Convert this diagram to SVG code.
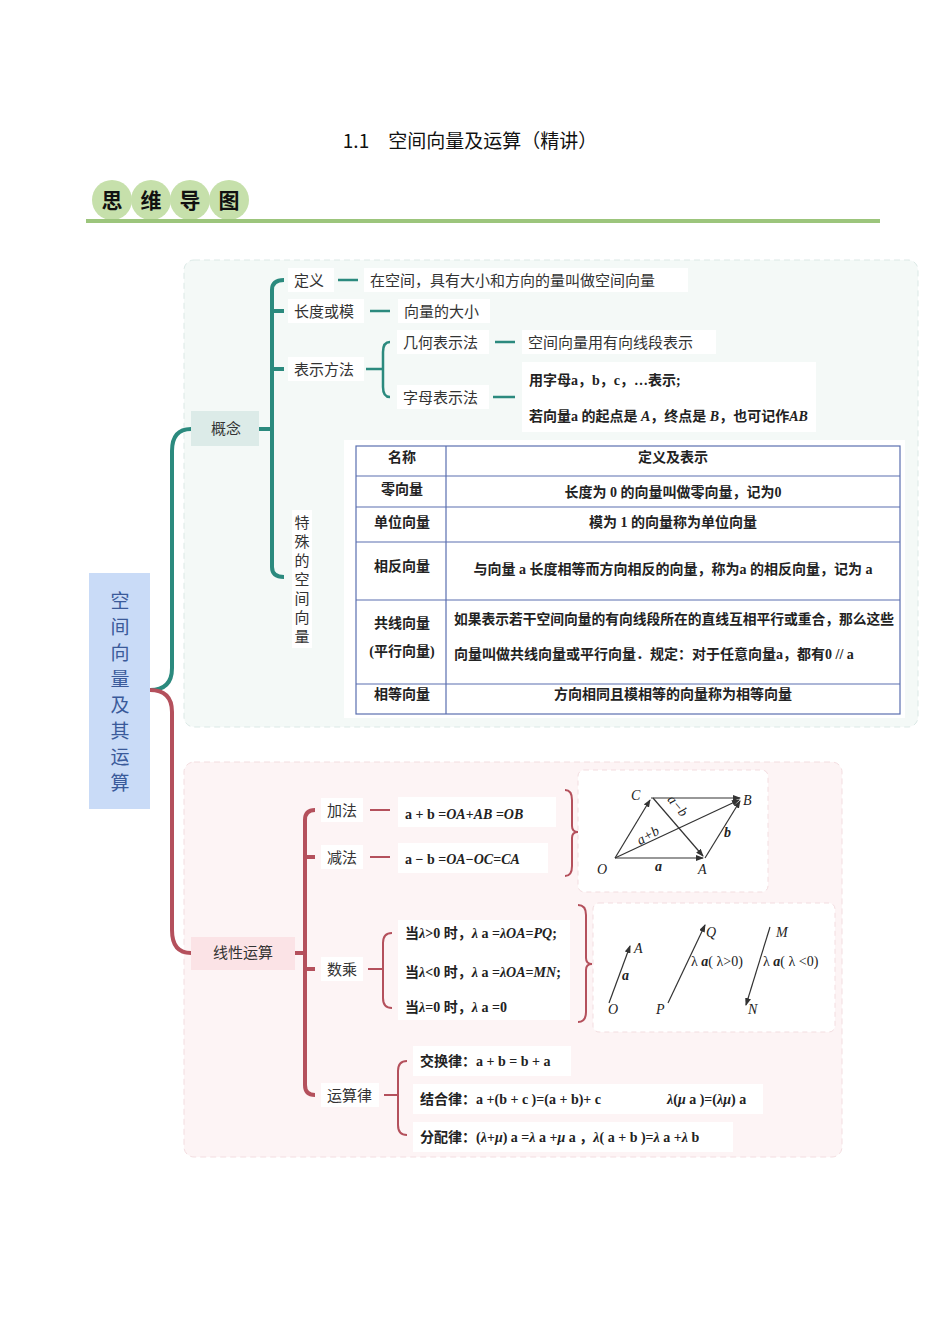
<svg xmlns="http://www.w3.org/2000/svg" width="950" height="1344" viewBox="0 0 950 1344">
<style>
.t{font-family:"Noto Sans CJK SC","Noto Sans",sans-serif;font-size:15px;fill:#333}
.s{font-family:"Liberation Serif","Noto Sans CJK SC",serif;font-size:14px;font-weight:bold;fill:#222}
.m{font-family:"Liberation Serif","Noto Sans CJK SC",serif;font-size:14px;font-style:italic;fill:#222}
.g{fill:none;stroke:#2b8a7e;stroke-width:4}
.r{fill:none;stroke:#b4505c;stroke-width:4}
.gl{fill:none;stroke:#2b8a7e;stroke-width:2.5}
.rl{fill:none;stroke:#b4505c;stroke-width:2}
.ln{stroke:#333;stroke-width:1.2;fill:none}
.bg{fill:#fff}
</style>
<defs>
<marker id="ah" markerWidth="8" markerHeight="6" refX="7" refY="3" orient="auto" markerUnits="userSpaceOnUse"><path d="M0,0 L8,3 L0,6 z" fill="#333"/></marker>
</defs>
<rect width="950" height="1344" fill="#fff"/>
<text x="470" y="148" text-anchor="middle" style="font-family:'Noto Sans CJK SC',sans-serif;font-size:19px;fill:#111">1.1　空间向量及运算（精讲）</text>
<g id="header">
<circle cx="112" cy="200" r="20" fill="#c6e0ab"/><circle cx="151" cy="200" r="20" fill="#c6e0ab"/><circle cx="190" cy="200" r="20" fill="#c6e0ab"/><circle cx="229" cy="200" r="20" fill="#c6e0ab"/>
<g style="font-family:'Noto Sans CJK SC',sans-serif;font-size:21px;font-weight:bold;fill:#111" text-anchor="middle">
<text x="112" y="208">思</text><text x="151" y="208">维</text><text x="190" y="208">导</text><text x="229" y="208">图</text></g>
<line x1="86" y1="221" x2="880" y2="221" stroke="#9cc57c" stroke-width="4"/>
</g>
<rect x="184" y="260" width="734" height="467" rx="10" fill="#f4f9f7" stroke="#dbe9e6" stroke-dasharray="6,4"/>
<rect x="184" y="762" width="658" height="395" rx="10" fill="#fdf4f5" stroke="#f3dde0" stroke-dasharray="6,4"/>
<g id="connectors">
<path class="g" d="M150,690 Q172,690 172,668 L172,451 Q172,429 191,429"/>
<path class="r" d="M150,690 Q172,690 172,712 L172,930 Q172,953 191,953"/>
<path class="g" d="M259,429 L272,429 M272,429 L272,290 Q272,280 284,280 M272,311 L284,311 M272,369 L284,369 M272,429 L272,567 Q272,577 284,577"/>
<path class="gl" d="M338,280 L358,280 M370,311 L390,311 M366,369 L383,369 M495,342 L515,342 M493,397 L515,397"/>
<path class="gl" d="M390,342 Q383,342 383,352 L383,387 Q383,397 390,397"/>
<path class="r" d="M295,953 L305,953 M305,953 L305,820 Q305,810 315,810 M305,857 L315,857 M305,969 L315,969 M305,953 L305,1085 Q305,1095 315,1095"/>
<path class="rl" d="M370,810 L390,810 M370,857 L390,857"/>
<path class="rl" d="M392,933 Q383,933 383,943 L383,998 Q383,1008 392,1008 M383,969 L368,969"/>
<path class="rl" d="M407,1061 Q398,1061 398,1071 L398,1125 Q398,1135 407,1135 M398,1095 L384,1095"/>
<path class="rl" d="M565,790 Q572,790 572,800 L572,826 Q572,832 578,832 Q572,832 572,838 L572,866 Q572,876 565,876"/>
<path class="rl" d="M578,905 Q586,905 586,915 L586,958 Q586,964 592,964 Q586,964 586,970 L586,1012 Q586,1022 578,1022"/>
</g>
<g id="main"><rect x="89" y="573" width="61" height="236" fill="#c9dbf7"/>
<g style="font-family:'Noto Sans CJK SC',sans-serif;font-size:19px;fill:#3a5a9a" text-anchor="middle">
<text x="120" y="608">空</text><text x="120" y="634">间</text><text x="120" y="660">向</text><text x="120" y="686">量</text><text x="120" y="712">及</text><text x="120" y="738">其</text><text x="120" y="764">运</text><text x="120" y="790">算</text></g></g>
<g id="gainian"><rect x="191" y="411" width="68" height="35" fill="#dcebe8"/><text class="t" x="226" y="434" text-anchor="middle">概念</text></g>
<g id="dingyi"><rect x="288" y="268" width="46" height="24" class="bg"/><text class="t" x="294" y="286">定义</text></g>
<g id="dingyi-c"><rect x="364" y="268" width="324" height="24" class="bg"/><text class="t" x="370" y="286">在空间，具有大小和方向的量叫做空间向量</text></g>
<g id="changdu"><rect x="288" y="299" width="76" height="24" class="bg"/><text class="t" x="294" y="317">长度或模</text></g>
<g id="changdu-c"><rect x="398" y="299" width="92" height="24" class="bg"/><text class="t" x="404" y="317">向量的大小</text></g>
<g id="biaoshi"><rect x="288" y="357" width="76" height="24" class="bg"/><text class="t" x="294" y="375">表示方法</text></g>
<g id="jihe"><rect x="397" y="330" width="92" height="24" class="bg"/><text class="t" x="403" y="348">几何表示法</text></g>
<g id="jihe-c"><rect x="522" y="330" width="194" height="24" class="bg"/><text class="t" x="528" y="348">空间向量用有向线段表示</text></g>
<g id="zimu"><rect x="397" y="385" width="92" height="24" class="bg"/><text class="t" x="403" y="403">字母表示法</text></g>
<g id="zimu-c"><rect x="522" y="362" width="294" height="70" class="bg"/>
<text class="s" x="529" y="385">用字母a，b，c，…表示;</text>
<text class="s" x="529" y="421">若向量a 的起点是 <tspan font-style="italic">A</tspan>，终点是 <tspan font-style="italic">B</tspan>，也可记作<tspan font-style="italic">AB</tspan></text></g>
<g id="teshu"><rect x="292" y="510" width="20" height="138" class="bg"/>
<g class="t" text-anchor="middle"><text x="302" y="528">特</text><text x="302" y="547">殊</text><text x="302" y="566">的</text><text x="302" y="585">空</text><text x="302" y="604">间</text><text x="302" y="623">向</text><text x="302" y="642">量</text></g></g>
<g id="table">
<rect x="344" y="440" width="561" height="278" class="bg"/>
<rect x="356" y="446" width="544" height="268" fill="none" stroke="#5a6fb0" stroke-width="1.2"/>
<path d="M446,446 L446,714 M356,476 L900,476 M356,507 L900,507 M356,542 L900,542 M356,600 L900,600 M356,684 L900,684" stroke="#5a6fb0" stroke-width="1.2"/>
<g class="s" text-anchor="middle">
<text x="402" y="462">名称</text><text x="673" y="462">定义及表示</text>
<text x="402" y="494">零向量</text><text x="673" y="497">长度为 0 的向量叫做零向量，记为0</text>
<text x="402" y="527">单位向量</text><text x="673" y="527">模为 1 的向量称为单位向量</text>
<text x="402" y="571">相反向量</text><text x="673" y="574">与向量 a 长度相等而方向相反的向量，称为a 的相反向量，记为  a</text>
<text x="402" y="628">共线向量</text><text x="402" y="656">(平行向量)</text>
<text x="402" y="699">相等向量</text><text x="673" y="699">方向相同且模相等的向量称为相等向量</text></g>
<text class="s" x="454" y="624" textLength="440" lengthAdjust="spacingAndGlyphs">如果表示若干空间向量的有向线段所在的直线互相平行或重合，那么这些</text>
<text class="s" x="454" y="659">向量叫做共线向量或平行向量．规定：对于任意向量a，都有0 // a</text>
</g>
<g id="xianxing"><rect x="191" y="937" width="104" height="33" fill="#fbe3e6"/><text class="t" x="243" y="958" text-anchor="middle">线性运算</text></g>
<g id="jiafa"><rect x="321" y="798" width="42" height="24" class="bg"/><text class="t" x="327" y="816">加法</text></g>
<g id="jianfa"><rect x="321" y="845" width="42" height="24" class="bg"/><text class="t" x="327" y="863">减法</text></g>
<g id="shucheng"><rect x="321" y="957" width="42" height="24" class="bg"/><text class="t" x="327" y="975">数乘</text></g>
<g id="yunsuanlv"><rect x="321" y="1083" width="58" height="24" class="bg"/><text class="t" x="327" y="1101">运算律</text></g>
<g id="add-f"><rect x="398" y="797" width="158" height="30" class="bg"/><text class="s" x="405" y="819">a + b =<tspan font-style="italic">OA</tspan>+<tspan font-style="italic">AB</tspan>  =<tspan font-style="italic">OB</tspan></text></g>
<g id="sub-f"><rect x="398" y="843" width="150" height="30" class="bg"/><text class="s" x="405" y="864">a − b =<tspan font-style="italic">OA</tspan>−<tspan font-style="italic">OC</tspan>=<tspan font-style="italic">CA</tspan></text></g>
<g id="fig1"><rect x="578" y="770" width="190" height="122" rx="6" fill="#fff" stroke="#f3dde0" stroke-dasharray="5,4"/>
<g class="ln" marker-end="url(#ah)">
<line x1="615" y1="858" x2="703" y2="858"/><line x1="615" y1="858" x2="650" y2="800"/><line x1="651" y1="798" x2="740" y2="798"/>
<line x1="705" y1="858" x2="740" y2="801"/><line x1="615" y1="858" x2="739" y2="800"/><line x1="653" y1="798" x2="703" y2="856"/></g>
<g class="m"><text x="631" y="800">C</text><text x="743" y="805">B</text><text x="597" y="874">O</text><text x="698" y="874">A</text><text x="655" y="871" font-weight="bold">a</text><text x="724" y="837" font-weight="bold">b</text>
<text x="636" y="842" transform="rotate(-30 644 836)">a+b</text><text x="660" y="806" transform="rotate(50 670 810)">a−b</text></g></g>
<g id="sc-f"><rect x="398" y="920" width="172" height="100" class="bg"/>
<text class="s" x="405" y="938">当<tspan font-style="italic">λ</tspan>&gt;0 时，<tspan font-style="italic">λ</tspan> a =<tspan font-style="italic">λOA</tspan>=<tspan font-style="italic">PQ</tspan>;</text>
<text class="s" x="405" y="977">当<tspan font-style="italic">λ</tspan>&lt;0 时，<tspan font-style="italic">λ</tspan> a =<tspan font-style="italic">λOA</tspan>=<tspan font-style="italic">MN</tspan>;</text>
<text class="s" x="405" y="1012">当<tspan font-style="italic">λ</tspan>=0 时，<tspan font-style="italic">λ</tspan> a =0</text></g>
<g id="fig2"><rect x="593" y="903" width="242" height="129" rx="6" fill="#fff" stroke="#f3dde0" stroke-dasharray="5,4"/>
<g class="ln" marker-end="url(#ah)"><line x1="609" y1="1003" x2="630" y2="946"/><line x1="668" y1="1003" x2="705" y2="925"/><line x1="770" y1="927" x2="746" y2="1005"/></g>
<g class="m"><text x="634" y="953">A</text><text x="622" y="980" font-weight="bold">a</text><text x="608" y="1014">O</text><text x="656" y="1014">P</text><text x="706" y="937">Q</text><text x="776" y="937">M</text><text x="748" y="1014">N</text>
<text x="691" y="966" font-style="normal">λ <tspan font-style="italic" font-weight="bold">a</tspan>( λ&gt;0)</text><text x="763" y="966" font-style="normal">λ <tspan font-style="italic" font-weight="bold">a</tspan>( λ &lt;0)</text></g></g>
<g id="lv-f"><rect x="413" y="1046" width="158" height="30" class="bg"/><rect x="413" y="1084" width="350" height="30" class="bg"/><rect x="413" y="1122" width="320" height="30" class="bg"/>
<text class="s" x="420" y="1066">交换律：a + b = b + a</text>
<text class="s" x="420" y="1104">结合律：a +(b + c )=(a + b)+ c</text>
<text class="s" x="667" y="1104"><tspan font-style="italic">λ</tspan>(<tspan font-style="italic">μ</tspan> a )=(<tspan font-style="italic">λμ</tspan>) a</text>
<text class="s" x="420" y="1142">分配律：(<tspan font-style="italic">λ</tspan>+<tspan font-style="italic">μ</tspan>) a =<tspan font-style="italic">λ</tspan> a +<tspan font-style="italic">μ</tspan> a ，<tspan font-style="italic">λ</tspan>( a + b )=<tspan font-style="italic">λ</tspan> a +<tspan font-style="italic">λ</tspan> b</text>
</g>
</svg>
